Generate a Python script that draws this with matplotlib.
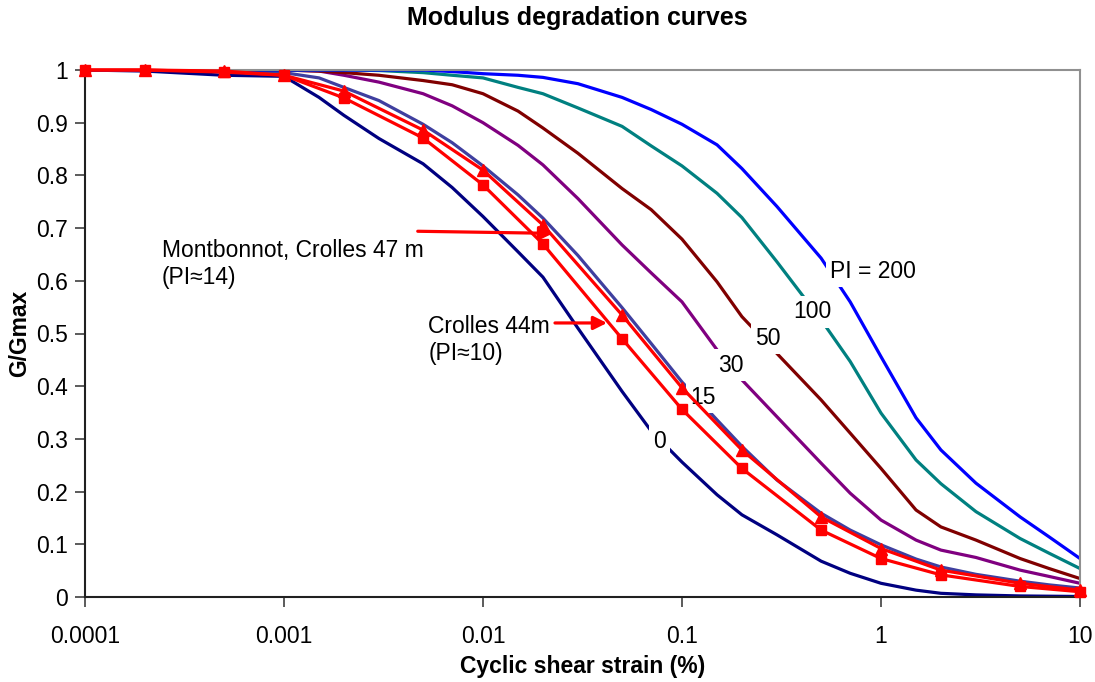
import matplotlib
matplotlib.use("Agg")
import matplotlib.pyplot as plt

plt.rcParams['font.family'] = ['Liberation Sans', 'DejaVu Sans']

# Strain grid of the reference curves (%)
strain_ref = [0.0001, 0.0002, 0.0005, 0.001, 0.0015, 0.002, 0.003, 0.005,
              0.007, 0.01, 0.015, 0.02, 0.03, 0.05, 0.07, 0.1, 0.15, 0.2,
              0.3, 0.5, 0.7, 1, 1.5, 2, 3, 5, 7, 10]

# Vucetic & Dobry reference curves (G/Gmax)
pi0 = [1.0, 0.998, 0.99, 0.988, 0.948, 0.914, 0.87, 0.822, 0.777, 0.722,
       0.655, 0.607, 0.51, 0.39, 0.315, 0.256, 0.194, 0.156, 0.118, 0.068,
       0.045, 0.026, 0.013, 0.007, 0.004, 0.002, 0.0015, 0.001]
pi15 = [1.0, 1.0, 0.999, 0.995, 0.985, 0.967, 0.942, 0.897, 0.862, 0.818,
        0.763, 0.719, 0.648, 0.549, 0.481, 0.408, 0.336, 0.286, 0.222, 0.159,
        0.127, 0.099, 0.072, 0.057, 0.043, 0.03, 0.023, 0.017]
pi30 = [1.0, 1.0, 1.0, 1.0, 0.998, 0.99, 0.977, 0.955, 0.932, 0.90,
        0.857, 0.82, 0.756, 0.668, 0.615, 0.56, 0.469, 0.412, 0.342, 0.254,
        0.197, 0.146, 0.108, 0.089, 0.075, 0.051, 0.039, 0.026]
pi50 = [1.0, 1.0, 1.0, 1.0, 0.998, 0.995, 0.99, 0.98, 0.972, 0.955,
        0.922, 0.89, 0.842, 0.775, 0.735, 0.679, 0.598, 0.532, 0.462, 0.374,
        0.311, 0.244, 0.165, 0.133, 0.108, 0.073, 0.054, 0.035]
pi100 = [1.0, 1.0, 1.0, 1.0, 1.0, 1.0, 0.999, 0.995, 0.99, 0.985,
         0.967, 0.955, 0.928, 0.893, 0.856, 0.818, 0.766, 0.72, 0.636, 0.526,
         0.447, 0.349, 0.26, 0.215, 0.162, 0.111, 0.083, 0.054]
pi200 = [1.0, 1.0, 1.0, 1.0, 1.0, 1.0, 1.0, 1.0, 0.997, 0.993,
         0.99, 0.986, 0.974, 0.948, 0.925, 0.897, 0.858, 0.813, 0.741, 0.643,
         0.56, 0.456, 0.34, 0.279, 0.216, 0.152, 0.114, 0.073]

# Test strains (%) and results
strain_test = [0.0001, 0.0002, 0.0005, 0.001, 0.002, 0.005, 0.01, 0.02,
               0.05, 0.1, 0.2, 0.5, 1, 2, 5, 10]
montbonnot = [1.0, 1.0, 0.998, 0.99, 0.96, 0.886, 0.81, 0.706,
              0.535, 0.397, 0.279, 0.152, 0.092, 0.051, 0.026, 0.013]
crolles44 = [1.0, 1.0, 0.996, 0.99, 0.947, 0.871, 0.782, 0.67,
             0.49, 0.356, 0.244, 0.127, 0.073, 0.042, 0.02, 0.01]

pi_labels = ["0", "15", "30", "50", "100", "PI = 200"]
pi_colors = ["#000080", "#3f3f9f", "#800080", "#800000", "#008080", "#0000FF"]

fig = plt.figure(figsize=(10.95, 6.82), dpi=100)
ax = fig.add_axes([85/1095, 1-597/682, (1080-85)/1095, (597-70)/682])

curves = [pi0, pi15, pi30, pi50, pi100, pi200]
for vals, col in zip(curves, pi_colors):
    ax.plot(strain_ref, vals, color=col, lw=2.3, zorder=2,
            solid_joinstyle='round')

ax.plot(strain_test, montbonnot, color='#FF0000', lw=2.3, marker='^', ms=9,
        zorder=4, clip_on=False)
ax.plot(strain_test, crolles44, color='#FF0000', lw=2.3, marker='s', ms=7.5,
        zorder=4, clip_on=False)

# curve labels (white boxes)
label_pos = [(0.0775, 0.296), (0.1276, 0.378), (0.176, 0.440),
             (0.270, 0.491), (0.450, 0.541), (0.912, 0.617)]
for txt, (lx, ly) in zip(pi_labels, label_pos):
    ax.text(lx, ly, txt, fontsize=16.5, ha='center', va='center', zorder=3,
            bbox=dict(facecolor='white', edgecolor='none', pad=3))

# annotations
ax.annotate("", xy=(0.0225, 0.69), xytext=(0.0047, 0.694),
            arrowprops=dict(arrowstyle='-|>', color='#FF0000', lw=2.3,
                            mutation_scale=20, shrinkA=0, shrinkB=0),
            zorder=5)
ax.text(0.000244, 0.632, "Montbonnot, Crolles 47 m\n(PI\u224814)",
        fontsize=16.5, ha='left', va='center', linespacing=1.25)
ax.annotate("", xy=(0.042, 0.52), xytext=(0.023, 0.52),
            arrowprops=dict(arrowstyle='-|>', color='#FF0000', lw=2.3,
                            mutation_scale=20, shrinkA=0, shrinkB=0),
            zorder=5)
ax.text(0.0053, 0.488, "Crolles 44m\n(PI\u224810)",
        fontsize=16.5, ha='left', va='center', linespacing=1.25)

ax.set_xscale('log')
ax.set_xlim(0.0001, 10)
ax.set_ylim(0, 1)
ax.set_xticks([0.0001, 0.001, 0.01, 0.1, 1, 10])
ax.set_xticklabels(["0.0001", "0.001", "0.01", "0.1", "1", "10"])
ax.minorticks_off()
ax.set_yticks([i/10 for i in range(11)])
ax.set_yticklabels(["0", "0.1", "0.2", "0.3", "0.4", "0.5", "0.6", "0.7",
                    "0.8", "0.9", "1"])
ax.tick_params(axis='both', labelsize=16.5, direction='out', length=7,
               width=1.2, color='#404040')
ax.tick_params(axis='x', pad=13)
ax.tick_params(axis='y', pad=5)

for s in ['top', 'right']:
    ax.spines[s].set_color('#909090')
    ax.spines[s].set_linewidth(1.5)
for s in ['left', 'bottom']:
    ax.spines[s].set_color('#202020')
    ax.spines[s].set_linewidth(1.5)

ax.set_xlabel("Cyclic shear strain (%)", fontsize=16.5, fontweight='bold')
ax.xaxis.set_label_coords(0.5, (597-666)/527)
ax.xaxis.label.set_va('center')
ax.set_ylabel("G/Gmax", fontsize=16.5, fontweight='bold')
ax.yaxis.set_label_coords((20-85)/995, 0.5)
ax.yaxis.label.set_va('center')
fig.text(577/1095, 1-18/682, "Modulus degradation curves", fontsize=18,
         fontweight='bold', ha='center', va='center')

fig.savefig("out.png", dpi=100)
